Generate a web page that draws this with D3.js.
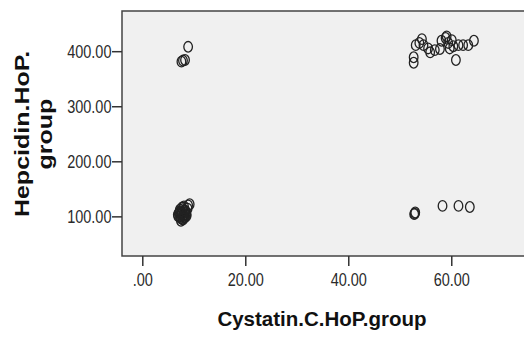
<!DOCTYPE html>
<html>
<head>
<meta charset="utf-8">
<script src="https://cdn.jsdelivr.net/npm/d3@7"></script>
<style>
  body { margin: 0; background: #fff; }
  svg { display: block; }
</style>
</head>
<body>
<svg id="chart" width="524" height="338"></svg>
<script>
// Cystatin.C.HoP.group (x) vs Hepcidin.HoP.group (y)
const cystatin = [
  // low / high-hepcidin cluster
  8.9, 7.9, 8.3, 7.6,
  // low / low cluster
  7.0, 7.4, 7.8, 8.2, 8.6, 7.2, 7.6, 8.0, 8.4, 8.8, 6.9, 7.3, 7.7, 8.1, 8.5, 7.5, 7.9, 8.3, 8.9, 9.2, 7.1, 7.8, 8.6,
  7.3, 7.6, 8.0, 8.3, 7.5, 7.9, 8.2, 7.7,
  // high / high cluster
  52.7, 52.7, 53.1, 54.3, 54.6, 55.5, 55.9, 56.8, 57.8, 58.1, 59.1, 59.4, 59.7, 60.1, 60.9, 61.4, 62.3, 63.3, 64.4, 53.8, 58.9, 60.4,
  // high / low cluster
  52.9, 53.0, 52.8, 58.3, 61.4, 63.6
];
const hepcidin = [
  408, 383, 384, 381,
  100, 97, 95, 99, 104, 108, 106, 102, 110, 114, 103, 112, 116, 118, 107, 92, 94, 98, 120, 122, 106, 113, 101,
  100, 104, 98, 102, 109, 96, 111, 105,
  389, 379, 411, 422, 411, 405, 398, 402, 404, 419, 427, 415, 405, 420, 384, 411, 411, 411, 419, 415, 424, 409,
  105, 107, 104, 119, 119, 117
];
const xTicks = [0, 20, 40, 60];
const yTicks = [100, 200, 300, 400];

const points = cystatin.map((c, i) => ({ x: c, y: hepcidin[i] }));

const svg = d3.select("#chart");
const plotLeft = 122, plotTop = 11, plotBottom = 256, plotRight = 528;
const fontFam = "'Liberation Sans', Arial, sans-serif";

const x = d3.scaleLinear().domain([-3.94, 74.9]).range([plotLeft, plotRight]);
const y = d3.scaleLinear().domain([28, 473]).range([plotBottom, plotTop]);

const fmt = (v) => (v === 0 ? ".00" : d3.format(".2f")(v));

// plot background
svg.append("rect")
  .attr("x", plotLeft)
  .attr("y", plotTop)
  .attr("width", plotRight - plotLeft)
  .attr("height", plotBottom - plotTop)
  .attr("fill", "#f0f0f0")
  .attr("stroke", "#444")
  .attr("stroke-width", 1.5);

const xAxis = svg.append("g")
  .attr("transform", `translate(0,${plotBottom})`)
  .call(d3.axisBottom(x).tickValues(xTicks).tickFormat(fmt).tickSize(10).tickSizeOuter(0));
const yAxis = svg.append("g")
  .attr("transform", `translate(${plotLeft},0)`)
  .call(d3.axisLeft(y).tickValues(yTicks).tickFormat(fmt).tickSize(10).tickSizeOuter(0));

[xAxis, yAxis].forEach((g) => {
  g.select(".domain").remove();
  g.selectAll(".tick line").attr("stroke", "#333").attr("stroke-width", 1.5);
  g.selectAll(".tick text")
    .attr("fill", "#2a2a2a")
    .attr("x", 0)
    .attr("y", 0)
    .style("font-family", fontFam)
    .style("font-size", "14.5px");
});
// labels look a bit tall in the original, so stretch them vertically
xAxis.selectAll(".tick text")
  .attr("dy", 0)
  .attr("transform", "translate(0,30) scale(1,1.25)");
yAxis.selectAll(".tick text")
  .attr("dy", "0.35em")
  .attr("transform", "translate(-10.5,0) scale(1,1.25)");

// points
svg.append("g")
  .selectAll("ellipse")
  .data(points)
  .enter()
  .append("ellipse")
  .attr("cx", (d) => x(d.x))
  .attr("cy", (d) => y(d.y))
  .attr("rx", 4.3)
  .attr("ry", 5.3)
  .attr("fill", "none")
  .attr("stroke", "#222")
  .attr("stroke-width", 1.3);

// axis titles
svg.append("text")
  .attr("x", 322)
  .attr("y", 326)
  .attr("text-anchor", "middle")
  .style("font-family", fontFam)
  .style("font-size", "20.5px")
  .style("font-weight", "bold")
  .attr("fill", "#111")
  .text("Cystatin.C.HoP.group");

const yTitle = svg.append("text")
  .attr("transform", "translate(0,134) scale(1,1.25) rotate(-90)")
  .attr("text-anchor", "middle")
  .style("font-family", fontFam)
  .style("font-size", "20px")
  .style("font-weight", "bold")
  .attr("fill", "#111");
yTitle.append("tspan").attr("x", 0).attr("y", 29).text("Hepcidin.HoP.");
yTitle.append("tspan").attr("x", 0).attr("y", 52).text("group");
</script>
</body>
</html>
